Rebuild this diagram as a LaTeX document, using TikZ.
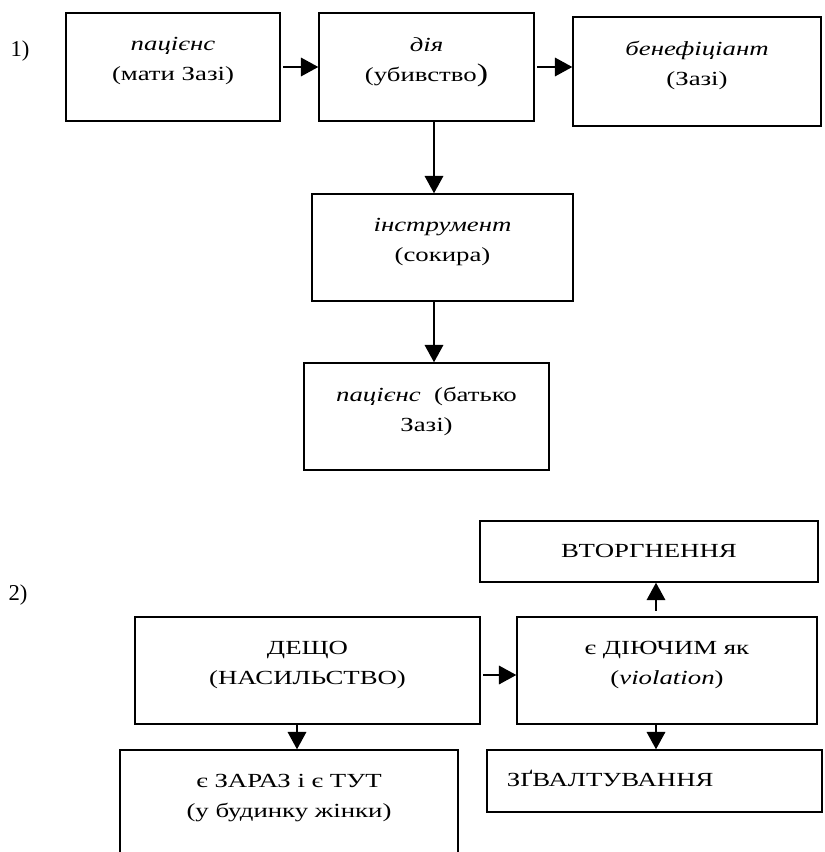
\documentclass[tikz,border=0pt]{standalone}
\usepackage{fontspec}
\setmainfont{Liberation Serif}[FakeStretch=1.34]
\newfontfamily\numfont{Liberation Serif}
\usetikzlibrary{positioning,fit,arrows.meta}

\begin{document}
\begin{tikzpicture}[x=0.75pt,y=-0.75pt,>={Triangle[length=13pt,width=14pt]},line width=0.9pt,
  font=\fontsize{15}{22.5}\selectfont,
  box/.style={draw,line width=1.1pt,inner sep=0pt},
  txt/.style={inner sep=0pt,align=center}]
  \clip (0,0) rectangle (824,852);

  % схема 1
  \node[box,fit={(66,13) (280,121)}] (pac) {};
  \node[box,fit={(319,13) (534,121)}] (dia) {};
  \node[box,fit={(573,17) (821,126)}] (ben) {};
  \node[box,fit={(312,194) (573,301)}] (instr) {};
  \node[box,fit={(304,363) (549,470)}] (pacb) {};

  \node[txt,below=18.5pt of pac.north] (pact) {\textit{пацієнс}\\(мати Зазі)};
  \node[txt,below=18.5pt of dia.north] (diat) {\textit{дія}\\(убивство{\fontsize{19}{22.5}\selectfont)}};
  \node[txt,below=18.5pt of ben.north] (bent) {\textit{бенефіціант}\\(Зазі)};
  \node[txt,below=18.5pt of instr.north] (instrt) {\textit{інструмент}\\(сокира)};
  \node[txt,below=18.5pt of pacb.north] (pacbt) {\textit{пацієнс}\ \ (батько\\Зазі)};

  \coordinate (ax) at (434,0);
  \draw[->,shorten <=2pt] (pac.east) -- (dia.west);
  \draw[->,shorten <=2pt] (dia.east) -- (dia.east -| ben.west);
  \draw[->] (dia.south -| ax) -- (instr.north -| ax);
  \draw[->] (instr.south -| ax) -- (pacb.north -| ax);

  % схема 2
  \node[box,fit={(480,521) (818,582)}] (vtor) {};
  \node[box,fit={(135,617) (480,724)}] (desc) {};
  \node[box,fit={(517,617) (817,724)}] (diy) {};
  \node[box,fit={(120,750) (458,870)}] (zaraz) {};
  \node[box,fit={(487,750) (822,812)}] (zgv) {};

  \node[txt,below=12pt of vtor.north] (vtort) {\strut ВТОРГНЕННЯ};
  \node[txt,below=18.5pt of desc.north] (desct) {ДЕЩО\\(НАСИЛЬСТВО)};
  \node[txt,below=18.5pt of diy.north] (diyt) {є ДІЮЧИМ як\\(\textit{violation})};
  \node[txt,below=18.5pt of zaraz.north] (zarazt) {є ЗАРАЗ і є ТУТ\\(у будинку жінки)};
  \node[txt,anchor=north west,below right=11.5pt and 15pt of zgv.north west] (zgvt) {\strut ЗҐВАЛТУВАННЯ};

  \coordinate (bx) at (297,0);
  \coordinate (cx) at (656,0);
  \coordinate (cy) at (0,675);
  \draw[->,shorten <=2pt] (desc.east |- cy) -- (diy.west |- cy);
  \draw[->] (desc.south -| bx) -- (zaraz.north -| bx);
  \draw[->] (diy.south -| cx) -- (zgv.north -| cx);
  \draw[->,shorten <=4pt] (diy.north -| cx) -- (vtor.south -| cx);

  % номери
  \node[inner sep=0pt,anchor=base west,font=\numfont\fontsize{17}{20}\selectfont] (n1) at (10,57) {1)};
  \node[inner sep=0pt,anchor=base west,font=\numfont\fontsize{17}{20}\selectfont] (n2) at (8,600) {2)};
\end{tikzpicture}
\end{document}
